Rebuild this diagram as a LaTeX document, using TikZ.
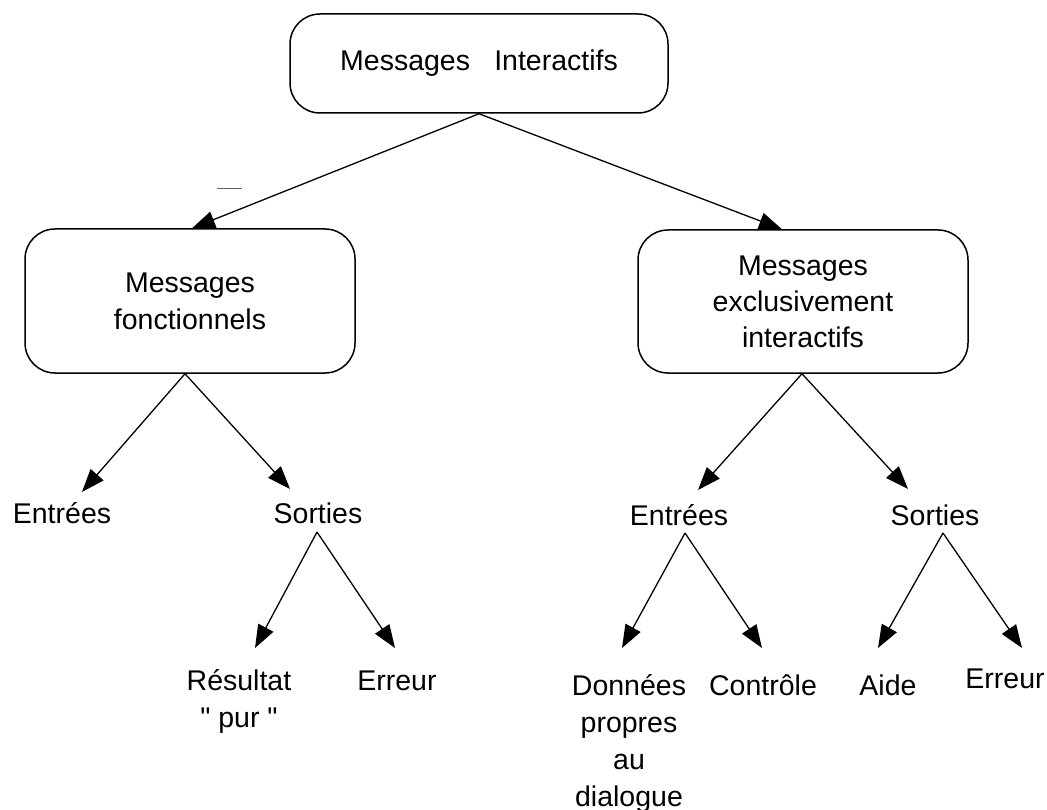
\documentclass[tikz,border=0pt]{standalone}
\usepackage{fontspec}
\setmainfont{Liberation Sans}
\newfontfamily\rawsans{Liberation Sans}
\usetikzlibrary{arrows.meta}
\begin{document}
\begin{tikzpicture}[x=1pt,y=-1pt,
  every node/.style={font=\fontsize{28.5}{37}\selectfont},
  box/.style={draw, line width=1.5pt, rounded corners=30pt, align=center, inner sep=0pt},
  lbl/.style={align=center, inner sep=0pt, anchor=base},
  arr/.style={line width=1.3pt, -{Triangle[length=23pt,width=17pt]}}]
\useasboundingbox (0,0) rectangle (1047,810);
\fill[white] (0,0) rectangle (1047,810);
% boxes
\node[box, minimum width=378pt, minimum height=99pt] (top) at (479,63.5) {Messages\hspace{0.85em}Interactifs};
\node[box, minimum width=330pt, minimum height=144pt] (lbox) at (190,301) {Messages\\fonctionnels};
\node[box, minimum width=330pt, minimum height=143pt, font=\fontsize{28.5}{36}\selectfont] (rbox) at (803,301.5) {Messages\\exclusivement\\interactifs};
% labels left (base = baseline of last line)
\node[lbl] (fE) at (62,523) {Entrées};
\node[lbl] (fS) at (318,523) {Sorties};
\node[lbl] (fR) at (239,727) {Résultat\\{\rawsans"}\ pur {\rawsans"}};
\node[lbl] (fX) at (397,690) {Erreur};
% labels right
\node[lbl] (iE) at (679,525) {Entrées};
\node[lbl] (iS) at (935,525) {Sorties};
\node[lbl] (iD) at (629,806) {Données\\propres\\au\\dialogue};
\node[lbl] (iC) at (763,695) {Contrôle};
\node[lbl] (iA) at (888,695) {Aide};
\node[lbl] (iX) at (1005,688) {Erreur};
% stray mark
\draw[line width=0.9pt, black!60] (217,188) -- (242,188);
% arrows
\draw[arr] (top.south) -- ([xshift=2pt]lbox.north);
\draw[arr] (top.south) -- ([xshift=-21pt]rbox.north);
\draw[arr] ([xshift=-5pt]lbox.south) -- ([xshift=20pt,yshift=31pt]fE.base);
\draw[arr] ([xshift=-5pt]lbox.south) -- ([xshift=-28pt,yshift=34pt]fS.base);
\draw[arr] ([xshift=-1pt,yshift=-9pt]fS.base) -- ([xshift=16pt,yshift=79pt]fR.base);
\draw[arr] ([xshift=-1pt,yshift=-9pt]fS.base) -- ([xshift=-2pt,yshift=42pt]fX.base);
\draw[arr] ([xshift=-1pt]rbox.south) -- ([xshift=19pt,yshift=35pt]iE.base);
\draw[arr] ([xshift=-1pt]rbox.south) -- ([xshift=-27pt,yshift=36pt]iS.base);
\draw[arr] ([xshift=6pt,yshift=-8pt]iE.base) -- ([xshift=-7pt,yshift=158pt]iD.base);
\draw[arr] ([xshift=6pt,yshift=-8pt]iE.base) -- ([xshift=-1pt,yshift=47pt]iC.base);
\draw[arr] ([xshift=8pt,yshift=-8pt]iS.base) -- ([xshift=-10pt,yshift=47pt]iA.base);
\draw[arr] ([xshift=8pt,yshift=-8pt]iS.base) -- ([xshift=17pt,yshift=40pt]iX.base);
\end{tikzpicture}
\end{document}
